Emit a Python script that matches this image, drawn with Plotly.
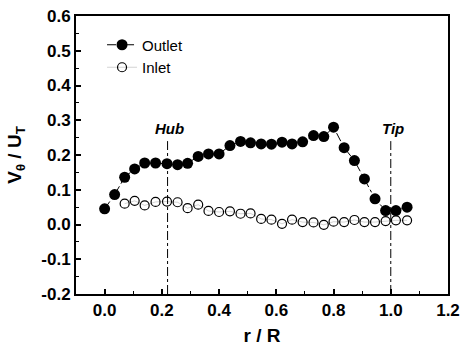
import plotly.graph_objects as go

# Data
outlet_r = [0.0, 0.035, 0.07, 0.105, 0.14, 0.178, 0.218, 0.255, 0.29, 0.327, 0.363, 0.40,
            0.438, 0.475, 0.51, 0.547, 0.583, 0.62, 0.655, 0.692, 0.73, 0.766, 0.80,
            0.837, 0.873, 0.908, 0.945, 0.982, 1.018, 1.057]
outlet_v = [0.045, 0.086, 0.136, 0.160, 0.177, 0.177, 0.175, 0.172, 0.176, 0.196, 0.203, 0.203,
            0.227, 0.239, 0.235, 0.232, 0.231, 0.237, 0.232, 0.238, 0.256, 0.253, 0.280,
            0.221, 0.184, 0.131, 0.074, 0.040, 0.040, 0.050]

inlet_r = [0.07, 0.105, 0.14, 0.178, 0.218, 0.255, 0.29, 0.327, 0.363, 0.40,
           0.438, 0.475, 0.51, 0.547, 0.583, 0.62, 0.655, 0.692, 0.73, 0.766, 0.80,
           0.837, 0.873, 0.908, 0.945, 0.982, 1.018, 1.057]
inlet_v = [0.060, 0.068, 0.055, 0.065, 0.066, 0.064, 0.047, 0.057, 0.039, 0.036,
           0.038, 0.031, 0.032, 0.016, 0.014, 0.002, 0.014, 0.007, 0.006, -0.001, 0.008,
           0.007, 0.013, 0.007, 0.007, 0.010, 0.012, 0.012]

markers_r = [0.22, 1.0]
markers_lbl = ["Hub", "Tip"]
marker_line_top = 0.24
marker_label_y = 0.275

x_ticks = [0.0, 0.2, 0.4, 0.6, 0.8, 1.0, 1.2]
y_ticks = [-0.2, -0.1, 0.0, 0.1, 0.2, 0.3, 0.4, 0.5, 0.6]

FONT = "Arial, Liberation Sans, sans-serif"

fig = go.Figure()
fig.add_trace(go.Scatter(
    x=outlet_r, y=outlet_v, mode="lines+markers", name="Outlet",
    line=dict(color="black", width=1, dash="dashdot"),
    marker=dict(symbol="circle", size=11, color="black", line=dict(color="black", width=0)),
))
fig.add_trace(go.Scatter(
    x=inlet_r, y=inlet_v, mode="lines+markers", name="Inlet",
    line=dict(color="rgba(0,0,0,0.35)", width=0.5),
    marker=dict(symbol="circle-open", size=9, color="black", line=dict(color="black", width=1.2)),
))

for xr, lbl in zip(markers_r, markers_lbl):
    fig.add_shape(type="line", x0=xr, x1=xr, y0=y_ticks[0], y1=marker_line_top,
                  xref="x", yref="y", line=dict(color="black", width=1, dash="dashdot"))
    fig.add_annotation(x=xr, y=marker_label_y, xref="x", yref="y", text="<b><i>%s</i></b>" % lbl,
                       showarrow=False, font=dict(family=FONT, size=15, color="black"),
                       xshift=2)

axis_common = dict(
    showgrid=False, zeroline=False, showline=True, linecolor="black", linewidth=2,
    mirror=True, ticks="inside", tickcolor="black", ticklen=5, tickwidth=1.5,
    tickfont=dict(family=FONT, size=17, color="black", weight="bold"),
    minor=dict(ticks="inside", ticklen=3, tickcolor="black", tickwidth=1),
    automargin=False,
)

fig.update_xaxes(range=[-0.1, 1.2], tickvals=x_ticks,
                 ticktext=["%.1f" % v for v in x_ticks],
                 minor_dtick=0.1, minor_tick0=0,
                 title=dict(text="r / R", font=dict(family=FONT, size=19, color="black", weight="bold")),
                 **axis_common)
fig.update_yaxes(range=[-0.2, 0.6], tickvals=y_ticks,
                 ticktext=["%.1f" % v for v in y_ticks],
                 minor_dtick=0.05, minor_tick0=0,
                 title=dict(text="V<sub>θ</sub> / U<sub>T</sub>", font=dict(family=FONT, size=19, color="black", weight="bold")),
                 **axis_common)

fig.update_layout(
    width=473, height=346,
    margin=dict(l=76, r=25, t=16, b=52),
    paper_bgcolor="white", plot_bgcolor="white",
    font=dict(family=FONT, color="black"),
    legend=dict(x=0.07, y=0.955, xanchor="left", yanchor="top",
                bgcolor="rgba(0,0,0,0)", font=dict(family=FONT, size=15, color="black"),
                tracegroupgap=0),
)

fig.write_html("out.html")
